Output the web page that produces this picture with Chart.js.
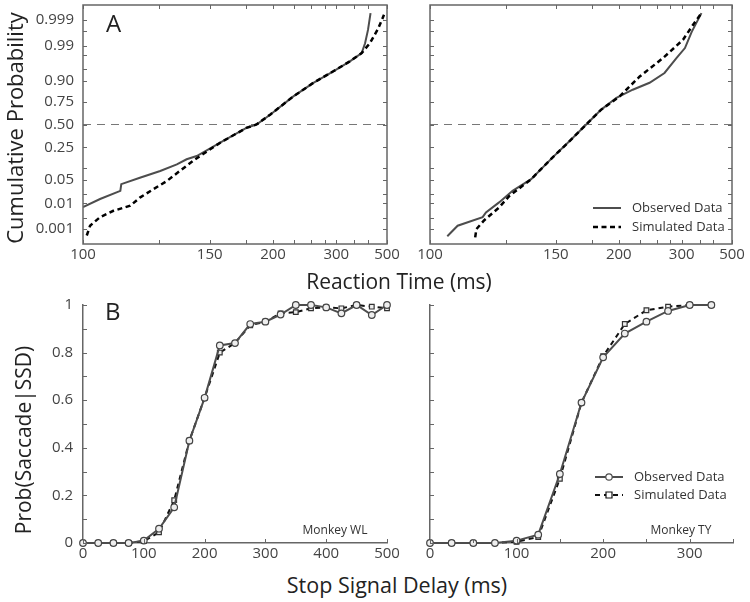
<!DOCTYPE html>
<html lang="en">
<head>
<meta charset="UTF-8">
<title>Reaction time distributions and inhibition functions</title>
<script src="https://cdn.jsdelivr.net/npm/chart.js"></script>
<style>
    body { margin: 0; background: #fff; font-family: "Open Sans", sans-serif; color: #333; }
    #fig { position: relative; width: 750px; height: 602px; overflow: hidden; }
    canvas { position: absolute; }
    .txt { position: absolute; white-space: nowrap; line-height: 1; }
    .mid { transform: translate(-50%, -50%); }
    .rot { transform: translate(-50%, -50%) rotate(-90deg); }
</style>
</head>
<body>
<div id="fig">
    <canvas id="cdfWL" style="left:0;top:0" width="400" height="270"></canvas>
    <canvas id="cdfTY" style="left:400px;top:0" width="350" height="270"></canvas>
    <canvas id="inhWL" style="left:0;top:280px" width="400" height="290"></canvas>
    <canvas id="inhTY" style="left:400px;top:280px" width="350" height="290"></canvas>

    <div class="txt" style="left:106px;top:11px;font-size:24px;color:#222">A</div>
    <div class="txt" style="left:105px;top:299px;font-size:24px;color:#222">B</div>
    <div class="txt rot" style="left:14px;top:128px;font-size:22px;color:#222">Cumulative Probability</div>
    <div class="txt mid" style="left:399px;top:281px;font-size:21px;color:#222">Reaction Time (ms)</div>
    <div class="txt rot" style="left:23px;top:440px;font-size:21px;color:#222">Prob(Saccade|SSD)</div>
    <div class="txt mid" style="left:397px;top:585px;font-size:21.5px;color:#222">Stop Signal Delay (ms)</div>
    <div class="txt mid" style="left:335px;top:530px;font-size:12px">Monkey WL</div>
    <div class="txt mid" style="left:681px;top:530px;font-size:12px">Monkey TY</div>
</div>

<script>
    // --- A: reaction time distributions (RT in ms, cumulative probability) ---
    const obsWL_rt = [100, 104.7, 110.9, 111.2, 117.6, 125.5, 132.8, 137.5, 142.7, 156.5, 175.4, 184, 197, 224, 254, 293, 336, 375, 388, 400, 411];
    const obsWL_p  = [0.0073, 0.0139, 0.025, 0.039, 0.058, 0.085, 0.119, 0.152, 0.176, 0.295, 0.46, 0.5, 0.614, 0.797, 0.891, 0.942, 0.969, 0.9826, 0.9918, 0.9974, 0.9995];
    const simWL_rt = [101, 101.9, 104.7, 108.7, 114.2, 117.6, 122.7, 128.2, 134.2, 141.9, 156.5, 175.4, 184, 197, 224, 254, 293, 336, 375, 408, 448, 481];
    const simWL_p  = [0.00052, 0.0014, 0.0031, 0.0054, 0.0082, 0.0154, 0.028, 0.047, 0.085, 0.152, 0.295, 0.46, 0.5, 0.614, 0.797, 0.891, 0.942, 0.969, 0.9826, 0.9918, 0.9977, 0.9994];

    const obsTY_rt = [104.8, 107.9, 116.2, 117.4, 122.4, 128, 136.6, 148, 158.7, 170.6, 183, 197.6, 216, 239, 264, 288, 308, 326, 356];
    const obsTY_p  = [0.00048, 0.0014, 0.0031, 0.0047, 0.0107, 0.025, 0.053, 0.164, 0.312, 0.5, 0.67, 0.785, 0.848, 0.891, 0.936, 0.975, 0.988, 0.9969, 0.9995];
    const simTY_rt = [113.6, 114, 116.7, 122.4, 126.6, 136.6, 148, 158.7, 170.6, 183, 201, 225, 261, 303, 330, 356];
    const simTY_p  = [0.00043, 0.001, 0.0023, 0.0071, 0.0174, 0.053, 0.164, 0.312, 0.5, 0.67, 0.797, 0.922, 0.975, 0.9938, 0.9984, 0.9995];

    const medianP = 0.5;
    const rtTicks  = [100, 125, 150, 175, 200, 225, 250, 275, 300, 350, 400, 500];
    const rtLabels = ['100', '', '150', '', '200', '', '', '', '300', '', '', '500'];
    const probTicks  = [0.001, 0.003, 0.01, 0.02, 0.05, 0.10, 0.25, 0.50, 0.75, 0.90, 0.95, 0.98, 0.99, 0.997, 0.999];
    const probLabels = ['0.001', '', '0.01', '', '0.05', '', '0.25', '0.50', '0.75', '0.90', '', '', '0.99', '', '0.999'];

    // --- B: inhibition functions ---
    const ssdWL = [0, 25, 50, 75, 100, 125, 150, 175, 200, 225, 250, 275, 300, 325, 350, 375, 400, 425, 450, 475, 500];
    const obsWL_inh = [0, 0, 0, 0, 0.01, 0.06, 0.15, 0.43, 0.61, 0.83, 0.84, 0.92, 0.93, 0.96, 1.0, 1.0, 0.99, 0.965, 1.0, 0.958, 1.0];
    const simWL_inh = [0, 0, 0, 0, 0.008, 0.045, 0.18, 0.43, 0.61, 0.80, 0.84, 0.915, 0.93, 0.965, 0.97, 0.986, 0.99, 0.986, 1.0, 0.993, 0.986];
    const ssdTY = [0, 25, 50, 75, 100, 125, 150, 175, 200, 225, 250, 275, 300, 325];
    const obsTY_inh = [0, 0, 0, 0, 0.01, 0.035, 0.29, 0.59, 0.78, 0.88, 0.93, 0.975, 1.0, 1.0];
    const simTY_inh = [0, 0, 0, 0, 0.005, 0.025, 0.27, 0.59, 0.785, 0.92, 0.978, 0.993, 1.0, 1.0];

    // normal quantile (Acklam), used for the probability axis
    function probit(p) {
        const a = [-39.69683028665376, 220.9460984245205, -275.9285104469687, 138.3577518672690, -30.66479806614716, 2.506628277459239];
        const b = [-54.47609879822406, 161.5858368580409, -155.6989798598866, 66.80131188771972, -13.28068155288572];
        const c = [-0.007784894002430293, -0.3223964580411365, -2.400758277161838, -2.549671464239200, 4.374664141464968, 2.938163982698783];
        const d = [0.007784695709041462, 0.3224671290700398, 2.445134137142996, 3.754408661907416];
        const lo = 0.02425;
        let q, r;
        if (p < lo) {
            q = Math.sqrt(-2 * Math.log(p));
            return (((((c[0]*q + c[1])*q + c[2])*q + c[3])*q + c[4])*q + c[5]) / ((((d[0]*q + d[1])*q + d[2])*q + d[3])*q + 1);
        }
        if (p > 1 - lo) {
            q = Math.sqrt(-2 * Math.log(1 - p));
            return -(((((c[0]*q + c[1])*q + c[2])*q + c[3])*q + c[4])*q + c[5]) / ((((d[0]*q + d[1])*q + d[2])*q + d[3])*q + 1);
        }
        q = p - 0.5; r = q * q;
        return (((((a[0]*r + a[1])*r + a[2])*r + a[3])*r + a[4])*r + a[5])*q / (((((b[0]*r + b[1])*r + b[2])*r + b[3])*r + b[4])*r + 1);
    }
    const recip = rt => -1000 / rt;   // reciprobit x axis
    const toPts = (rt, p) => rt.map((t, i) => ({ x: recip(t), y: probit(p[i]) }));

    const AXIS = '#666';
    const tickFont = { family: '"Open Sans", sans-serif', size: 15 };

    // keep the plot box where the layout padding puts it
    const noLabelPad = s => { s.paddingTop = 0; s.paddingBottom = 0; s.paddingLeft = 0; s.paddingRight = 0; };

    // inward tick marks (and optional full box)
    const inwardTicks = {
        id: 'inwardTicks',
        afterDatasetsDraw(chart, args, opts) {
            const { ctx, chartArea: a, scales: { x, y } } = chart;
            const len = 4;
            ctx.save();
            ctx.strokeStyle = AXIS;
            ctx.lineWidth = 1;
            ctx.beginPath();
            x.ticks.forEach(t => {
                const px = Math.round(x.getPixelForValue(t.value)) + 0.5;
                ctx.moveTo(px, a.bottom); ctx.lineTo(px, a.bottom - len);
                if (opts.box) { ctx.moveTo(px, a.top); ctx.lineTo(px, a.top + len); }
            });
            y.ticks.forEach(t => {
                const py = Math.round(y.getPixelForValue(t.value)) + 0.5;
                ctx.moveTo(a.left, py); ctx.lineTo(a.left + len, py);
                if (opts.box) { ctx.moveTo(a.right, py); ctx.lineTo(a.right - len, py); }
            });
            ctx.stroke();
            if (opts.box) {
                ctx.lineWidth = 1.5;
                ctx.strokeRect(a.left, a.top, a.right - a.left, a.bottom - a.top);
            }
            ctx.restore();
        }
    };

    // small key drawn at a fixed spot, styled from the datasets
    const keyBox = {
        id: 'keyBox',
        afterDraw(chart, args, opts) {
            if (!opts.rows) return;
            const ctx = chart.ctx;
            ctx.save();
            ctx.font = '13px "Open Sans", sans-serif';
            ctx.textBaseline = 'middle';
            opts.rows.forEach((row, i) => {
                const ds = chart.data.datasets[row.index];
                const y = opts.y + i * opts.gap;
                ctx.strokeStyle = ds.borderColor;
                ctx.lineWidth = ds.borderWidth;
                ctx.setLineDash(ds.borderDash || []);
                ctx.beginPath();
                ctx.moveTo(opts.x, y); ctx.lineTo(opts.x + 28, y);
                ctx.stroke();
                ctx.setLineDash([]);
                if (opts.markers) {
                    ctx.lineWidth = 1.2;
                    ctx.fillStyle = '#fff';
                    ctx.beginPath();
                    if (ds.pointStyle === 'rect') ctx.rect(opts.x + 11, y - 3, 6, 6);
                    else ctx.arc(opts.x + 14, y, 3.2, 0, Math.PI * 2);
                    ctx.fill(); ctx.stroke();
                }
                ctx.fillStyle = '#333';
                ctx.fillText(ds.label, opts.x + 39, y);
            });
            ctx.restore();
        }
    };

    function cdfChart(id, obs, sim, yw, padR, showY, key) {
        const ctx = document.getElementById(id).getContext('2d');
        return new Chart(ctx, {
            type: 'line',
            data: {
                datasets: [
                    { label: 'Observed Data', data: obs, borderColor: '#4d4d4d', borderWidth: 2, pointRadius: 0, order: 2 },
                    { label: 'Simulated Data', data: sim, borderColor: '#000', borderWidth: 2.5, borderDash: [5, 3.5], pointRadius: 0, order: 1 },
                    { label: 'median', data: [{ x: recip(100), y: probit(medianP) }, { x: recip(500), y: probit(medianP) }],
                      borderColor: '#777', borderWidth: 1.2, borderDash: [8, 6], pointRadius: 0, order: 3 }
                ]
            },
            options: {
                responsive: false,
                animation: false,
                layout: { padding: { top: 5, right: padR, left: 0, bottom: 0 } },
                plugins: {
                    legend: { display: false },
                    tooltip: { enabled: false },
                    inwardTicks: { box: true },
                    keyBox: key
                },
                scales: {
                    x: {
                        type: 'linear', min: recip(100), max: recip(500),
                        afterBuildTicks: s => { s.ticks = rtTicks.map(t => ({ value: recip(t) })); },
                        afterFit: s => { s.height = 26; noLabelPad(s); },
                        grid: { display: false, drawTicks: false },
                        border: { display: false },
                        ticks: { autoSkip: false, maxRotation: 0, padding: 2, color: '#444', font: tickFont,
                                 callback: (v, i) => rtLabels[i] }
                    },
                    y: {
                        type: 'linear', min: -3.53, max: 3.53,
                        afterBuildTicks: s => { s.ticks = probTicks.map(p => ({ value: probit(p) })); },
                        afterFit: s => { s.width = yw; noLabelPad(s); },
                        grid: { display: false, drawTicks: false },
                        border: { display: false },
                        ticks: { display: showY, autoSkip: false, padding: 9, color: '#444', font: tickFont,
                                 callback: (v, i) => probLabels[i] }
                    }
                }
            },
            plugins: [inwardTicks, keyBox]
        });
    }

    function inhChart(id, ssd, obs, sim, xmax, xstep, yw, padR, showY, key) {
        const ctx = document.getElementById(id).getContext('2d');
        return new Chart(ctx, {
            type: 'line',
            data: {
                labels: ssd,
                datasets: [
                    { label: 'Observed Data', data: ssd.map((s, i) => ({ x: s, y: obs[i] })), borderColor: '#4d4d4d', borderWidth: 2,
                      pointStyle: 'circle', pointRadius: 3.3, pointBorderWidth: 1.2, pointBackgroundColor: '#eee', pointBorderColor: '#444',
                      clip: false, order: 1 },
                    { label: 'Simulated Data', data: ssd.map((s, i) => ({ x: s, y: sim[i] })), borderColor: '#111', borderWidth: 2, borderDash: [5, 4],
                      pointStyle: 'rect', pointRadius: 3.3, pointBorderWidth: 1.2, pointBackgroundColor: '#eee', pointBorderColor: '#333',
                      clip: false, order: 2 }
                ]
            },
            options: {
                responsive: false,
                animation: false,
                layout: { padding: { top: 25, right: padR, left: 0, bottom: 0 } },
                plugins: {
                    legend: { display: false },
                    tooltip: { enabled: false },
                    inwardTicks: { box: false },
                    keyBox: key
                },
                scales: {
                    x: {
                        type: 'linear', min: 0, max: xmax,
                        afterFit: s => { s.height = 27; noLabelPad(s); },
                        grid: { display: false, drawTicks: false },
                        border: { display: true, color: AXIS, width: 1.5 },
                        ticks: { stepSize: xstep, autoSkip: false, maxRotation: 0, padding: 2, color: '#444', font: tickFont,
                                 callback: v => (v % 100 === 0 ? String(v) : '') }
                    },
                    y: {
                        type: 'linear', min: 0, max: 1,
                        afterFit: s => { s.width = yw; noLabelPad(s); },
                        grid: { display: false, drawTicks: false },
                        border: { display: true, color: AXIS, width: 1.5 },
                        ticks: { display: showY, stepSize: 0.1, autoSkip: false, padding: 10, color: '#444', font: tickFont,
                                 callback: v => (Math.round(v * 10) % 2 === 0 ? String(Math.round(v * 10) / 10) : '') }
                    }
                }
            },
            plugins: [inwardTicks, keyBox]
        });
    }

    cdfChart('cdfWL', toPts(obsWL_rt, obsWL_p), toPts(simWL_rt, simWL_p), 83, 13, true, {});
    cdfChart('cdfTY', toPts(obsTY_rt, obsTY_p), toPts(simTY_rt, simTY_p), 30, 18, false,
             { rows: [{ index: 0 }, { index: 1 }], x: 193, y: 208, gap: 19 });
    inhChart('inhWL', ssdWL, obsWL_inh, simWL_inh, 500, 100, 83, 13, true, {});
    inhChart('inhTY', ssdTY, obsTY_inh, simTY_inh, 350, 50, 30, 17, false,
             { rows: [{ index: 0 }, { index: 1 }], x: 195, y: 197, gap: 18, markers: true });
</script>
</body>
</html>
